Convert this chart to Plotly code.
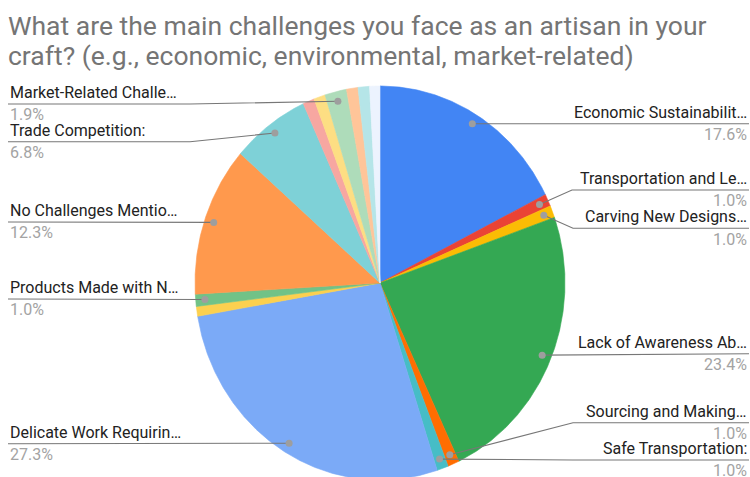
import math
import plotly.graph_objects as go

# Survey answers, clockwise from 12 o'clock (percent of responses)
labels = [
    "Economic Sustainabilit…", "Transportation and Le…", "Carving New Designs…",
    "Lack of Awareness Ab…", "Sourcing and Making…", "Safe Transportation:",
    "Delicate Work Requirin…", "Other", "Products Made with N…",
    "No Challenges Mentio…", "Trade Competition:", "Other", "Other",
    "Market-Related Challe…", "Other", "Other", "Other",
]
shares = [17.6, 1.0, 1.0, 23.4, 1.0, 1.0, 27.3, 0.8, 1.0,
          12.3, 6.8, 1.0, 1.0, 1.9, 1.0, 1.0, 0.9]
colors = [
    "#4285F4", "#EA4335", "#FBBC04", "#34A853", "#FF6D01", "#46BDC6",
    "#7BAAF7", "#FCD04F", "#71C287", "#FF994D", "#7ED1D7", "#F7A7A1",
    "#FDDE83", "#AEDCBA", "#FFC599", "#B5E5E8", "#ECF3FE",
]

title_lines = [
    "What are the main challenges you face as an artisan in your",
    "craft? (e.g., economic, environmental, market-related)",
]

# Callouts: slice index -> (side, underline y in px, knee x in px or None)
callouts = {
    0: ("right", 123.7, None),
    1: ("right", 190.0, 572),
    2: ("right", 228.3, 573),
    3: ("right", 353.7, None),
    4: ("right", 422.7, 573),
    5: ("right", 460.0, 573),
    6: ("left", 443.7, None),
    8: ("left", 299.0, None),
    9: ("left", 222.0, None),
    10: ("left", 141.7, 190),
    13: ("left", 104.0, 190),
}

W, H = 750, 477
CX, CY, RX, RY = 380, 283, 185, 197
DOT_R = 0.95
FONT = "Roboto, Arial, sans-serif"


def to_x(px):
    return (px - CX) / RX


def to_y(py):
    return (CY - py) / RY


total = sum(shares)
fig = go.Figure()

# Slices as filled wedges on a unit circle
start = 0.0
mids = []
for value, color, name in zip(shares, colors, labels):
    a0 = start / total * 2 * math.pi
    a1 = (start + value) / total * 2 * math.pi
    n = max(4, int(math.degrees(a1 - a0) / 0.4))
    ts = [a0 + (a1 - a0) * k / n for k in range(n + 1)]
    xs = [0.0] + [math.sin(t) for t in ts] + [0.0]
    ys = [0.0] + [math.cos(t) for t in ts] + [0.0]
    fig.add_trace(go.Scatter(
        x=xs, y=ys, mode="lines", fill="toself", fillcolor=color,
        line=dict(color=color, width=0.6), name=name,
        hoverinfo="text", text=f"{name} {value / total * 100:.1f}%",
        showlegend=False,
    ))
    mids.append((a0 + a1) / 2)
    start += value

# Leader lines, dots and labels
annotations = []
for idx, (side, uy, knee) in callouts.items():
    t = mids[idx]
    dx, dy = DOT_R * math.sin(t), DOT_R * math.cos(t)
    end_px = 749 if side == "right" else 8
    xs, ys = [dx], [dy]
    if knee is not None:
        xs.append(to_x(knee))
        ys.append(to_y(uy))
    xs.append(to_x(end_px))
    ys.append(to_y(uy))
    fig.add_trace(go.Scatter(
        x=xs, y=ys, mode="lines", line=dict(color="#777777", width=1.1),
        hoverinfo="skip", showlegend=False,
    ))
    fig.add_trace(go.Scatter(
        x=[dx], y=[dy], mode="markers",
        marker=dict(size=7, color="#9E9E9E"),
        hoverinfo="skip", showlegend=False,
    ))
    anchor = "right" if side == "right" else "left"
    annotations.append(dict(
        x=to_x(end_px), y=to_y(uy - 11.6), xref="x", yref="y",
        text=labels[idx], showarrow=False, xanchor=anchor, yanchor="middle",
        font=dict(family=FONT, size=16, color="#222222"),
    ))
    annotations.append(dict(
        x=to_x(end_px), y=to_y(uy + 10.8), xref="x", yref="y",
        text=f"{shares[idx] / total * 100:.1f}%", showarrow=False,
        xanchor=anchor, yanchor="middle",
        font=dict(family=FONT, size=16, color="#A3A3A3"),
    ))

# Two-line title
for line, cy in zip(title_lines, (25, 55)):
    annotations.append(dict(
        x=to_x(6), y=to_y(cy), xref="x", yref="y", text=line,
        showarrow=False, xanchor="left", yanchor="middle", align="left",
        font=dict(family=FONT, size=26.5, color="#757575"),
    ))

fig.update_layout(
    width=W, height=H, margin=dict(l=0, r=0, t=0, b=0),
    paper_bgcolor="white", plot_bgcolor="white",
    xaxis=dict(range=[to_x(0), to_x(W)], visible=False, fixedrange=True),
    yaxis=dict(range=[to_y(H), to_y(0)], visible=False, fixedrange=True),
    annotations=annotations,
    showlegend=False,
)

fig.write_html("out.html")
